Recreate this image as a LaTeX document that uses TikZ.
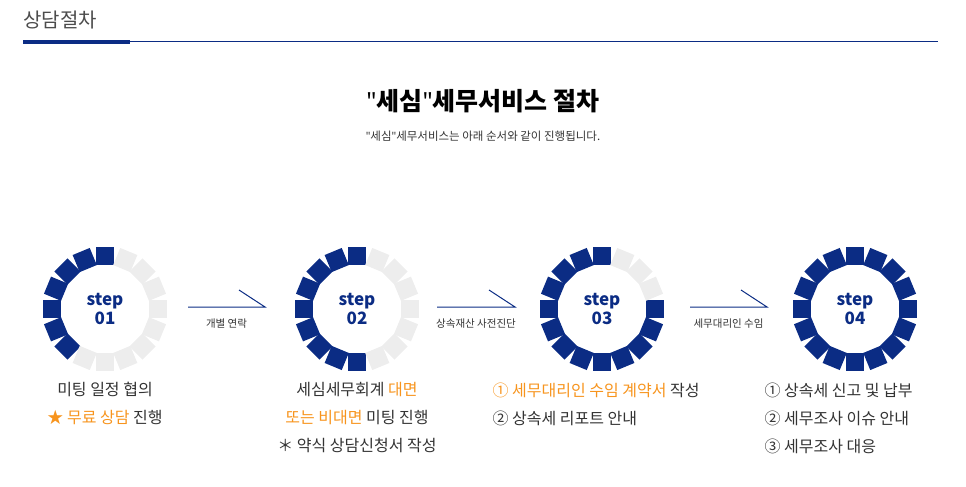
\documentclass[tikz,border=0pt]{standalone}
\usepackage{fontspec}
\setmainfont{Noto Sans CJK KR}
\newfontfamily\latinfont{Noto Sans}
\usepackage{tikz}
\usetikzlibrary{calc}
\definecolor{navy}{HTML}{0B2C84}
\definecolor{ringgray}{HTML}{EDEDED}
\definecolor{accent}{HTML}{F7941D}
\definecolor{txt}{HTML}{333333}
\newcommand{\dq}{{\latinfont\char"22}}
\tikzset{%
  tile/.style     = {shape=rectangle, minimum size=18.5pt, inner sep=0pt},%
  steplabel/.style= {align=center, font=\fontsize{17}{19}\selectfont\bfseries, text=navy},%
  flowtext/.style = {font=\fontsize{10.5}{12}\selectfont, text=txt},%
  desc/.style     = {font=\fontsize{16}{28}\selectfont, text=txt, align=center},%
  flow/.style     = {draw=navy, line width=1pt}%
}
\begin{document}
\begin{tikzpicture}[x=1pt,y=1pt]
	\useasboundingbox (0,0) rectangle (966,-487);
	% header
	\node (head) [anchor=west, font=\fontsize{20}{22}\selectfont, text=black!70] at (20,-20) {상담절차};
	\coordinate (hl) at (23,-42);
	\coordinate (hm) at (130,-42);
	\coordinate (hr) at (938,-42);
	\draw [navy, line width=1pt] (hl) -- (hr);
	\draw [navy, line width=4.5pt] (hl) -- (hm);
	\node (title) [font=\fontsize{25}{27}\selectfont\bfseries] at (483,-101) {\dq 세심\dq 세무서비스 절차};
	\node (sub) [font=\fontsize{11.5}{12}\selectfont, text=txt] at (483,-136) {\dq 세심\dq 세무서비스는 아래 순서와 같이 진행됩니다.};
	% rings
	\foreach \s/\cx/\n in {1/105/7, 2/357/9, 3/602/13, 4/855/16}{
		\foreach \i in {0,...,15}{
			\pgfmathsetmacro{\ang}{90+22.5*\i}
			\ifnum\i<\n \def\tilecol{navy}\else \def\tilecol{ringgray}\fi
			\node (sq\s-\i) [tile, fill=\tilecol, rotate=\ang-90] at ($(\cx,-309)+(\ang:53)$) {};
		}
		\node (st\s) [steplabel] at (\cx,-309) {step\\0\s};
	}
	% connectors
	\foreach \k/\xa/\xb/\lab in {1/188/265/개별 연락, 2/437/515/상속재산 사전진단, 3/690/767/세무대리인 수임}{
		\coordinate (fa\k) at (\xa,-307);
		\coordinate (fb\k) at (\xb,-307);
		\coordinate (ft\k) at (\xb-26,-290);
		\draw [flow] (fa\k) -- (fb\k) -- (ft\k);
		\node (fl\k) [flowtext] at ($(fa\k)!0.5!(fb\k)+(0,-17)$) {\lab};
	}
	% descriptions
	\node (d1) [desc, anchor=north] at (105,-379) {미팅 일정 협의\\{\color{accent}★ 무료 상담} 진행};
	\node (d2) [desc, anchor=north] at (357,-379) {세심세무회계 {\color{accent}대면}\\{\color{accent}또는 비대면} 미팅 진행\\＊ 약식 상담신청서 작성};
	\node (d3) [desc, align=left, anchor=north west] at (489,-379) {{\color{accent}① 세무대리인 수임 계약서} 작성\\② 상속세 리포트 안내};
	\node (d4) [desc, align=left, anchor=north west] at (761,-379) {① 상속세 신고 및 납부\\② 세무조사 이슈 안내\\③ 세무조사 대응};
\end{tikzpicture}
\end{document}
